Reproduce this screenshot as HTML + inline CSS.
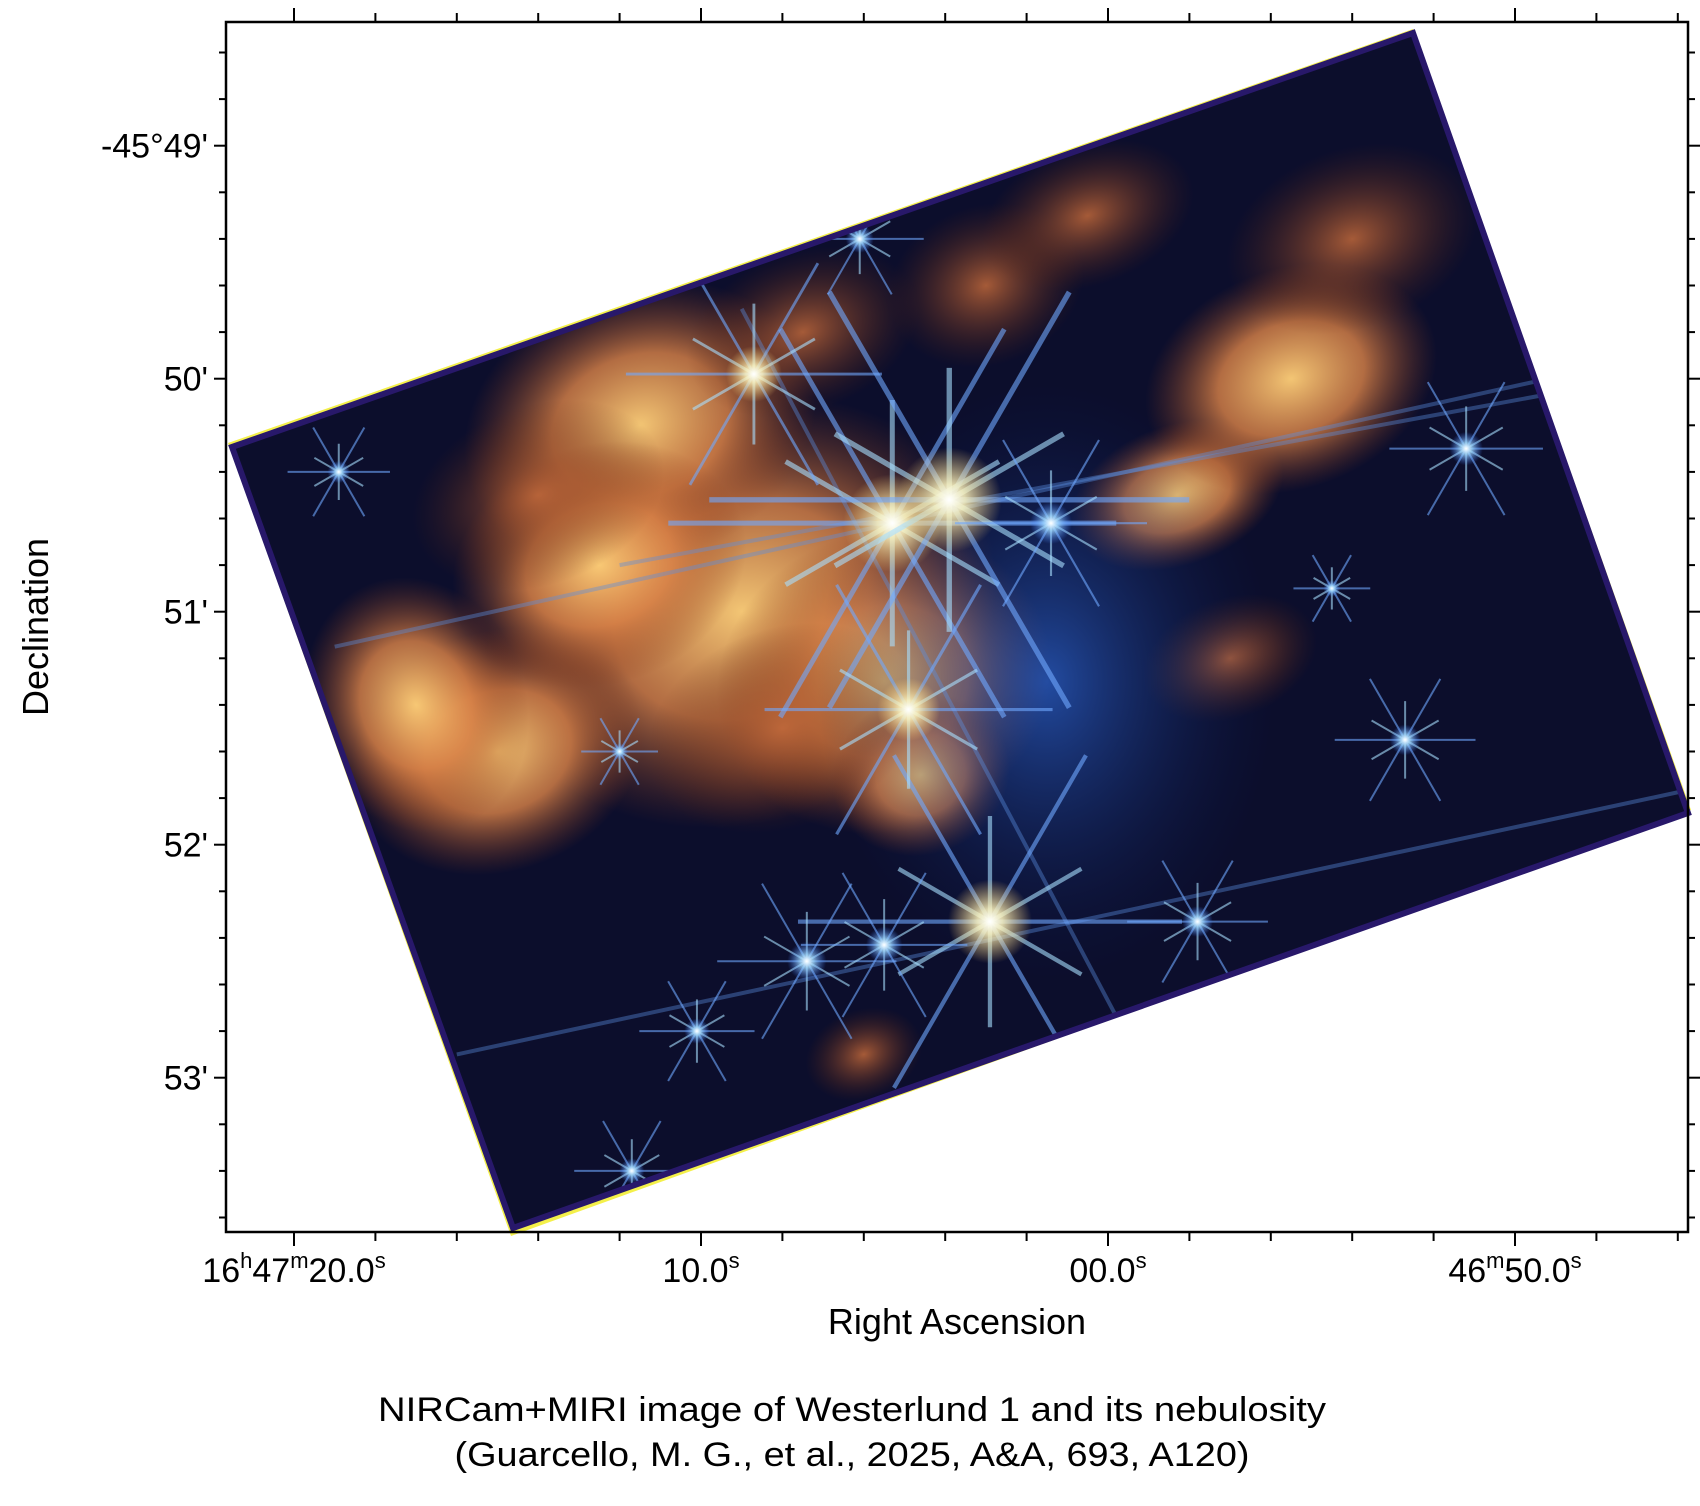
<!DOCTYPE html>
<html><head><meta charset="utf-8">
<style>
html,body{margin:0;padding:0;background:#fff;}
body{width:1700px;height:1506px;position:relative;overflow:hidden;font-family:"Liberation Sans",sans-serif;}
svg{position:absolute;left:0;top:0;}
</style></head>
<body>
<svg id="chart" width="1700" height="1506" viewBox="0 0 1700 1506">
<defs>
  <clipPath id="imgclip"><polygon points="232,447 1413,33 1688,813 513,1228"/></clipPath>
  <radialGradient id="neb" cx="50%" cy="50%" r="50%">
    <stop offset="0" stop-color="#ffcf78" stop-opacity="0.95"/>
    <stop offset="0.5" stop-color="#dc8448" stop-opacity="0.8"/>
    <stop offset="1" stop-color="#8a3a1a" stop-opacity="0"/>
  </radialGradient>
  <radialGradient id="neb2" cx="50%" cy="50%" r="50%">
    <stop offset="0" stop-color="#c0683a" stop-opacity="0.85"/>
    <stop offset="1" stop-color="#5a2412" stop-opacity="0"/>
  </radialGradient>
  <radialGradient id="glow" cx="50%" cy="50%" r="50%">
    <stop offset="0" stop-color="#ffffff" stop-opacity="1"/>
    <stop offset="0.3" stop-color="#fff6c0" stop-opacity="0.85"/>
    <stop offset="1" stop-color="#ffd070" stop-opacity="0"/>
  </radialGradient>
  <radialGradient id="bglow" cx="50%" cy="50%" r="50%">
    <stop offset="0" stop-color="#ffffff" stop-opacity="1"/>
    <stop offset="0.35" stop-color="#9fd8ff" stop-opacity="0.8"/>
    <stop offset="1" stop-color="#3a7aff" stop-opacity="0"/>
  </radialGradient>
  <radialGradient id="blueglow" cx="50%" cy="50%" r="50%">
    <stop offset="0" stop-color="#2a60c8" stop-opacity="0.75"/>
    <stop offset="1" stop-color="#0a1a50" stop-opacity="0"/>
  </radialGradient>
</defs>
<g id="image">
  <polygon points="228,443 1413,29 1691,810 511,1236" fill="#f4f04a"/>
  <polygon points="232,447 1413,33 1688,813 513,1228" fill="#0c0e2c"/>
  <g clip-path="url(#imgclip)" id="nebula"></g>
  <polygon points="232,447 1413,33 1688,813 513,1228" fill="none" stroke="#28186a" stroke-width="6"/>
</g>
<g id="axes"></g>
</svg>
<script>
const decLabels = ["-45°49'", "50'", "51'", "52'", "53'"];
const decValues = [49, 50, 51, 52, 53];
const raSeconds = [20, 10, 0, -10];
const raLabels = [["16","h","47","m","20.0","s"],["","","","","10.0","s"],["","","","","00.0","s"],["","","46","m","50.0","s"]];
// bright stars: ra seconds, dec arcmin, size
const starRA = [5.3, 3.9, 8.7, 2.9, 4.9, 1.4, 7.4, 5.5, -8.8, -7.3, -2.2, 6.1, 18.9, 11.7, 10.1, -16.2, 12.0, -5.5];
const starDec = [50.62, 50.52, 49.98, 52.33, 51.42, 50.62, 52.5, 52.43, 50.3, 51.55, 52.33, 49.4, 50.4, 53.4, 52.8, 51.72, 51.6, 50.9];
const starSize = [70, 75, 40, 60, 45, 30, 28, 26, 24, 22, 22, 20, 16, 18, 18, 18, 12, 12];
// nebula blobs: ra, dec, rx, ry
const nebRA = [9.0, 5.5, 11.5, 15.0, -1.7, -4.5, 4.6, 17.0, 7.5, 3.0, 6.0, -6.0, 12.5, 0.5, -3.0, 14.0, 8.0];
const nebDec = [51.0, 51.3, 50.2, 51.6, 50.5, 50.0, 51.7, 51.4, 49.8, 49.6, 52.9, 49.4, 50.8, 49.3, 51.2, 50.5, 51.5];
const nebRx = [260, 170, 180, 150, 110, 150, 90, 110, 120, 100, 60, 130, 150, 110, 90, 130, 140];
const nebRy = [210, 150, 140, 120, 70, 110, 80, 130, 80, 80, 45, 90, 120, 70, 60, 90, 100];

const X0=226, X1=1688, Y0=22, Y1=1232;
function xRA(s){ return 1108 - s*40.7; }
function yDec(d){ return 145.7 + (d-49)*233; }
const NS="http://www.w3.org/2000/svg";
function mk(tag, attrs, parent){ const e=document.createElementNS(NS,tag); for(const k in attrs) e.setAttribute(k,attrs[k]); parent.appendChild(e); return e; }

const neb=document.getElementById('nebula');
for(let i=0;i<nebRA.length;i++){
  const cx=xRA(nebRA[i]), cy=yDec(nebDec[i]);
  const e=mk('ellipse',{cx:cx,cy:cy,rx:nebRx[i],ry:nebRy[i],fill:(i<8||i==12)?'url(#neb)':'url(#neb2)',transform:`rotate(-20 ${cx} ${cy})`},neb);
  
  
}
const bg=mk('ellipse',{cx:xRA(1.5),cy:yDec(51.3),rx:230,ry:300,fill:'url(#blueglow)'},neb);


const streakRA1=[19, 16, 9, 12], streakDec1=[51.15, 52.9, 49.7, 50.8];
const streakRA2=[-16, -16, -1, -16], streakDec2=[49.8, 51.7, 53.0, 49.9];
for(let i=0;i<streakRA1.length;i++){
  const l=mk('line',{x1:xRA(streakRA1[i]),y1:yDec(streakDec1[i]),x2:xRA(streakRA2[i]),y2:yDec(streakDec2[i]),stroke:'#5b8fe0','stroke-width':4,'stroke-opacity':0.4},neb);
  
  
}
for(let i=0;i<starRA.length;i++){
  const cx=xRA(starRA[i]), cy=yDec(starDec[i]), s=starSize[i];
  const g=mk('g',{},neb);
  
  
  const L=s*3.2;
  [0,60,120,30,90,150].forEach((a,j)=>{
    const r=a*Math.PI/180, len=j<3?L:L*0.55;
    mk('line',{x1:cx-Math.cos(r)*len,y1:cy-Math.sin(r)*len,x2:cx+Math.cos(r)*len,y2:cy+Math.sin(r)*len,stroke:j<3?'#6fa8ff':'#a8e0ff','stroke-width':Math.max(2,s/14),'stroke-opacity':0.6},g);
  });
  mk('circle',{cx:cx,cy:cy,r:s*0.7,fill:s>35?'url(#glow)':'url(#bglow)'},g);
}

const ax=document.getElementById('axes');
const fr=mk('rect',{x:X0,y:Y0,width:X1-X0,height:Y1-Y0,fill:'none',stroke:'#000','stroke-width':2.5},ax);


for(let d=48.6; d<=53.61; d+=0.2){
  const y=yDec(d); const major=Math.abs(d-Math.round(d))<0.01; const len=major?12:7;
  mk('line',{x1:X0-len,y1:y,x2:X0,y2:y,stroke:'#000','stroke-width':2},ax);
  mk('line',{x1:X1,y1:y,x2:X1+len,y2:y,stroke:'#000','stroke-width':2},ax);
}
decValues.forEach((d,i)=>{
  const t=mk('text',{x:X0-18,y:yDec(d)+12,'text-anchor':'end','font-size':34,fill:'#000'},ax);
  t.textContent=decLabels[i];
  
  
});
for(let s=22; s>=-15; s-=2){
  const x=xRA(s); if(x<X0||x>X1) continue; const major=(s%10===0); const len=major?14:9;
  mk('line',{x1:x,y1:Y1,x2:x,y2:Y1+len,stroke:'#000','stroke-width':2},ax);
  mk('line',{x1:x,y1:Y0-len,x2:x,y2:Y0,stroke:'#000','stroke-width':2},ax);
}
raSeconds.forEach((s,i)=>{
  const t=mk('text',{x:xRA(s),y:1282,'text-anchor':'middle','font-size':34,fill:'#000'},ax);
  
  
  const p=raLabels[i];
  for(let k=0;k<p.length;k++){ if(!p[k]) continue; const ts=mk('tspan',{},t); ts.textContent=p[k];
    if(k%2===1){ ts.setAttribute('font-size','22'); ts.setAttribute('dy','-14'); } else if(k>0 && p[k-1]) { ts.setAttribute('dy','14'); } }
});
function label(txt,attrs,name){ const t=mk('text',attrs,ax); t.textContent=txt;   return t; }
label('Right Ascension',{x:957,y:1334,'text-anchor':'middle','font-size':36,fill:'#000'},'x-axis-title');
label('Declination',{x:48,y:627,'text-anchor':'middle','font-size':36,fill:'#000',transform:'rotate(-90 48 627)'},'y-axis-title');
label('NIRCam+MIRI image of Westerlund 1 and its nebulosity',{x:852,y:1421,'text-anchor':'middle','font-size':34,fill:'#000',textLength:948,lengthAdjust:'spacingAndGlyphs'},'caption-line-1');
label('(Guarcello, M. G., et al., 2025, A&A, 693, A120)',{x:852,y:1466,'text-anchor':'middle','font-size':34,fill:'#000',textLength:795,lengthAdjust:'spacingAndGlyphs'},'caption-line-2');
</script>
</body></html>
